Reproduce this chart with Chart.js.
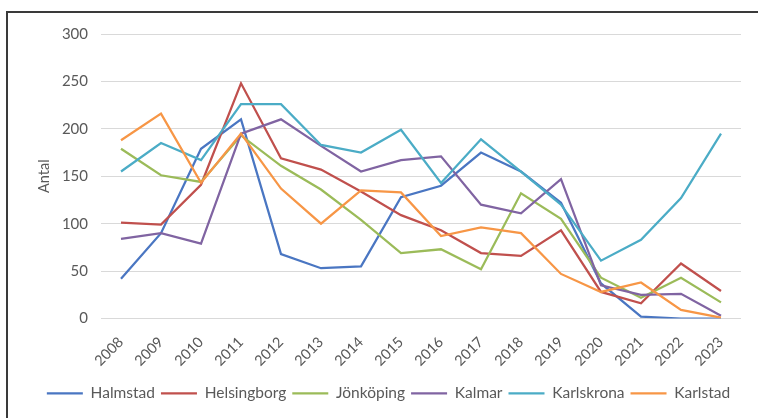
<!DOCTYPE html>
<html>
<head>
<meta charset="utf-8">
<script src="https://cdn.jsdelivr.net/npm/chart.js@4/dist/chart.umd.min.js"></script>
<style>
  html, body { margin: 0; padding: 0; background: #fff; overflow: hidden; }
  #frame {
    position: absolute; left: 6px; top: 11px;
    width: 820px; height: 480px;
    border: 2px solid #3a3a3a;
  }
  #wrap { position: absolute; left: 0; top: 0; width: 758px; height: 418px; }
</style>
</head>
<body>
<div id="frame"></div>
<div id="wrap"><canvas id="chart"></canvas></div>
<script>
/* ------------------------------------------------------------
   Data: number per city and year
   ------------------------------------------------------------ */
const years = ["2008", "2009", "2010", "2011", "2012", "2013", "2014", "2015",
               "2016", "2017", "2018", "2019", "2020", "2021", "2022", "2023"];

const halmstad    = [42, 90, 179, 210, 68, 53, 55, 128, 140, 175, 155, 122, 37, 2, 0, 0];
const helsingborg = [101, 99, 141, 248, 169, 157, 134, 109, 93, 69, 66, 93, 28, 16, 58, 29];
const jonkoping   = [179, 151, 144, 193, 161, 136, 104, 69, 73, 52, 132, 105, 43, 22, 43, 17];
const kalmar      = [84, 90, 79, 195, 210, 182, 155, 167, 171, 120, 111, 147, 35, 25, 26, 3];
const karlskrona  = [155, 185, 167, 226, 226, 183, 175, 199, 143, 189, 155, 120, 61, 83, 127, 195];
const karlstad    = [188, 216, 143, 195, 137, 100, 135, 133, 87, 96, 90, 47, 28, 38, 9, 1];

const seriesNames  = ["Halmstad", "Helsingborg", "Jönköping", "Kalmar", "Karlskrona", "Karlstad"];
const seriesValues = [halmstad, helsingborg, jonkoping, kalmar, karlskrona, karlstad];
const seriesColors = ["#4a76c2", "#c0504d", "#9bbb59", "#8064a2", "#4bacc6", "#f79646"];

const yTicks = [0, 50, 100, 150, 200, 250, 300];

/* ------------------------------------------------------------
   Chart
   ------------------------------------------------------------ */
const FONT = "Lato, 'Liberation Sans', sans-serif";
const TEXT = "#595959";

const datasets = seriesNames.map((name, i) => ({
    label: name,
    data: seriesValues[i],
    borderColor: seriesColors[i],
    backgroundColor: seriesColors[i],
    borderWidth: 2.25,
    pointRadius: 0,
    tension: 0,
    order: seriesNames.length - i   // later series drawn on top
}));

new Chart(document.getElementById("chart"), {
    type: "line",
    data: { labels: years, datasets },
    options: {
        responsive: true,
        maintainAspectRatio: false,
        animation: false,
        layout: { padding: { left: 36, right: 17, top: 34, bottom: 7 } },
        plugins: {
            tooltip: { enabled: false },
            legend: {
                position: "bottom",
                labels: {
                    usePointStyle: true,
                    pointStyle: "line",
                    pointStyleWidth: 36,
                    padding: 6,
                    color: TEXT,
                    font: { family: FONT, size: 15.5 },
                    sort: (a, b) => a.datasetIndex - b.datasetIndex
                }
            }
        },
        scales: {
            x: {
                offset: true,
                grid: { display: false, drawTicks: false },
                border: { display: false },
                ticks: {
                    color: TEXT,
                    font: { family: FONT, size: 14.5 },
                    minRotation: 45,
                    maxRotation: 45,
                    padding: 15
                },
                afterFit: (scale) => { scale.height = 61; }
            },
            y: {
                min: 0,
                max: 300,
                afterBuildTicks: (scale) => { scale.ticks = yTicks.map(v => ({ value: v })); },
                grid: { color: "#d9d9d9", lineWidth: 1, drawTicks: false },
                border: { display: false },
                ticks: {
                    color: TEXT,
                    font: { family: FONT, size: 15 },
                    padding: 13
                },
                title: {
                    display: true,
                    text: "Antal",
                    color: TEXT,
                    font: { family: FONT, size: 14.5 },
                    padding: 0
                },
                afterFit: (scale) => { scale.width = 65; }
            }
        }
    }
});
</script>
</body>
</html>
